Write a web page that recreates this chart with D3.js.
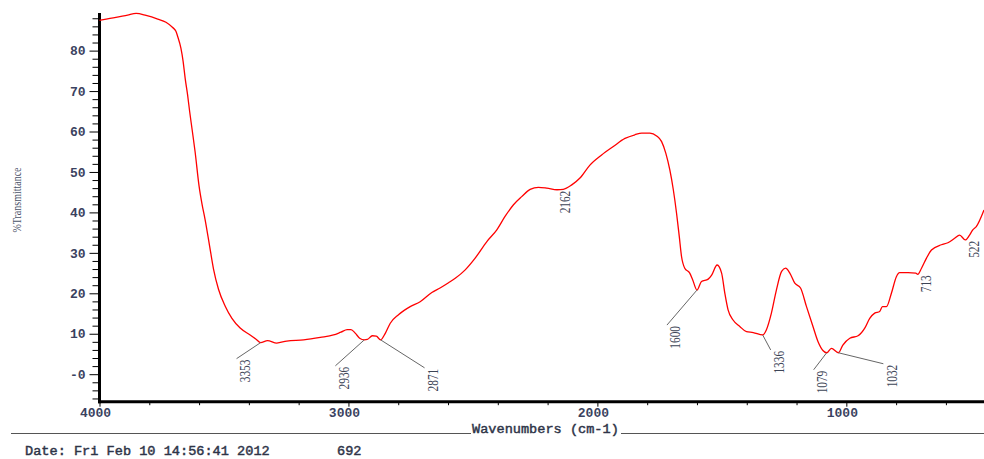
<!DOCTYPE html>
<html>
<head>
<meta charset="utf-8">
<script src="https://cdn.jsdelivr.net/npm/d3@7"></script>
<style>
  html, body { margin: 0; padding: 0; background: #ffffff; }
  svg { display: block; }
</style>
</head>
<body>
<svg id="chart" width="984" height="459"></svg>
<script>
// Infrared spectrum: wavenumber (cm-1) against %Transmittance
const wavenumbers = [
  4000, 3990, 3934, 3887, 3853, 3813, 3766, 3733, 3706, 3693, 3686, 3673, 3664, 3656, 3646,
  3638, 3628, 3616, 3600, 3588, 3576, 3558, 3542, 3522, 3495, 3468, 3435, 3395, 3370, 3353,
  3325, 3288, 3248, 3180, 3113, 3060, 3030, 3005, 2990, 2972, 2955, 2936, 2924, 2904, 2888,
  2871, 2852, 2832, 2799, 2752, 2712, 2665, 2632, 2598, 2571, 2531, 2491, 2444, 2404, 2371,
  2337, 2304, 2270, 2237, 2203, 2162, 2137, 2103, 2070, 2030, 1983, 1936, 1889, 1849, 1822,
  1789, 1762, 1742, 1725, 1709, 1695, 1682, 1671, 1662, 1649, 1629, 1617, 1600, 1582, 1555,
  1541, 1519, 1501, 1488, 1475, 1455, 1428, 1401, 1374, 1336, 1321, 1301, 1281, 1260, 1244,
  1227, 1207, 1184, 1160, 1134, 1114, 1093, 1079, 1060, 1032, 1014, 986, 953, 926, 906,
  886, 866, 855, 839, 819, 799, 786, 752, 721, 713, 698, 678, 658, 618, 592,
  565, 545, 522, 505, 492, 478, 447
];
const transmittance = [
  87.5, 87.6, 88.2, 88.8, 89.2, 88.7, 87.8, 87.0, 85.7, 84.8, 83.5, 80.6, 77.3, 73.2, 69.0,
  65.0, 60.5, 55.0, 46.5, 42.0, 38.3, 31.8, 26.0, 21.0, 16.8, 13.8, 11.4, 9.7, 8.6, 7.8,
  8.3, 7.7, 8.2, 8.5, 9.1, 9.7, 10.4, 11.0, 11.0, 10.1, 8.9, 8.5, 8.6, 9.5, 9.4,
  8.5, 10.1, 12.6, 14.7, 16.7, 17.9, 20.2, 21.3, 22.6, 23.7, 25.8, 28.7, 32.8, 35.7, 39.0,
  41.9, 43.9, 45.7, 46.2, 46.0, 45.6, 45.7, 46.8, 48.5, 51.7, 54.2, 56.3, 58.3, 59.2, 59.6,
  59.6, 58.9, 57.5, 54.6, 50.5, 45.6, 39.8, 34.0, 29.1, 26.2, 25.0, 23.3, 20.8, 22.9, 23.5,
  24.5, 27.0, 25.0, 20.0, 15.9, 13.4, 11.8, 10.5, 10.3, 9.7, 11.0, 15.1, 20.8, 25.4, 26.2,
  25.0, 22.5, 21.3, 16.7, 11.8, 8.1, 5.8, 5.3, 6.4, 5.3, 7.2, 8.9, 9.5, 11.4, 13.8,
  15.1, 15.5, 16.7, 16.7, 20.0, 24.1, 25.1, 25.1, 25.0, 24.7, 26.2, 28.7, 30.7, 32.0, 32.5,
  33.6, 34.4, 33.2, 34.4, 35.7, 36.5, 40.6
];

// Labelled peaks
const peakWavenumbers = [3353, 2936, 2871, 2162, 1600, 1336, 1079, 1032, 713, 522];
// Leader line end, in pixels from each peak point
const peakLeaders = [[-24, 16], [-29, 26], [44, 28], [0, 0], [-30, 35], [8, 15], [-13, 17], [45, 11], [0, 0], [0, 0]];

// Axis ticks
const xMajorTicks = [4000, 3000, 2000, 1000];
const xMinorTicks = [3800, 3600, 3400, 3200, 2800, 2600, 2400, 2200, 1800, 1600, 1400, 1200, 800, 600];
const yMajorTicks = [0, 10, 20, 30, 40, 50, 60, 70, 80];
const yMajorLabels = ["-0", "10", "20", "30", "40", "50", "60", "70", "80"];
const yMinorTicks = [-6, -4, -2, 2, 4, 6, 8, 12, 14, 16, 18, 22, 24, 26, 28, 32, 34, 36, 38,
  42, 44, 46, 48, 52, 54, 56, 58, 62, 64, 66, 68, 72, 74, 76, 78, 82, 84, 86, 88];

const xTitle = "Wavenumbers (cm-1)";
const yTitle = "%Transmittance";
const footerDate = "Date: Fri Feb 10 14:56:41 2012";
const footerCount = "692";

const svg = d3.select("#chart");
svg.append("rect").attr("width", 984).attr("height", 459).attr("fill", "#ffffff");

const plotLeft = 99.5, plotRight = 984, plotTop = 13, plotBottom = 401.7;
const x = d3.scaleLinear().domain([4000, 447]).range([plotLeft, plotRight]);
const y = d3.scaleLinear().domain([-6.8, 89.3]).range([plotBottom, plotTop]);

const monoFont = "'Liberation Mono', 'Courier New', monospace";
const tickColor = "#3a4260";
const textColor = "#2e3448";

// Y axis ticks
const yMajor = svg.append("g").attr("transform", `translate(${plotLeft},0)`)
  .call(d3.axisLeft(y).tickValues(yMajorTicks).tickSize(10).tickPadding(4)
    .tickFormat((d, i) => yMajorLabels[i]));
const yMinor = svg.append("g").attr("transform", `translate(${plotLeft},0)`)
  .call(d3.axisLeft(y).tickValues(yMinorTicks).tickSize(7).tickFormat(""));

// X axis ticks
const xMajor = svg.append("g").attr("transform", `translate(0,${plotBottom})`)
  .call(d3.axisBottom(x).tickValues(xMajorTicks).tickSize(5).tickPadding(1)
    .tickFormat(d3.format("d")));
const xMinor = svg.append("g").attr("transform", `translate(0,${plotBottom})`)
  .call(d3.axisBottom(x).tickValues(xMinorTicks).tickSize(3.5).tickFormat(""));

[yMajor, yMinor, xMajor, xMinor].forEach(g => {
  g.select(".domain").remove();
  g.selectAll(".tick line").attr("stroke", "#000").attr("stroke-width", 1);
  g.selectAll(".tick text")
    .attr("font-family", monoFont)
    .attr("font-size", 13)
    .attr("font-weight", "bold")
    .attr("fill", tickColor);
});
xMajor.selectAll(".tick text").attr("dx", -4.5).attr("dy", "0.7em");

// Axis lines
svg.append("line")
  .attr("x1", plotLeft).attr("x2", plotLeft)
  .attr("y1", plotTop).attr("y2", plotBottom + 1.5)
  .attr("stroke", "#000").attr("stroke-width", 3);
svg.append("line")
  .attr("x1", plotLeft - 1.5).attr("x2", plotRight)
  .attr("y1", plotBottom).attr("y2", plotBottom)
  .attr("stroke", "#000").attr("stroke-width", 3);

// Spectrum trace
const points = wavenumbers.map((w, i) => [w, transmittance[i]]);
const line = d3.line()
  .x(d => x(d[0]))
  .y(d => y(d[1]))
  .curve(d3.curveMonotoneX);
svg.append("path")
  .datum(points)
  .attr("d", line)
  .attr("fill", "none")
  .attr("stroke", "#ff0000")
  .attr("stroke-width", 1.3)
  .attr("stroke-linejoin", "round");

// Peak callouts
const peaks = svg.append("g");
peakWavenumbers.forEach((w, i) => {
  const px = x(w);
  const py = y(transmittance[wavenumbers.indexOf(w)]);
  const [dx, dy] = peakLeaders[i];
  const ex = px + dx, ey = py + dy;
  if (dx !== 0 || dy !== 0) {
    peaks.append("line")
      .attr("x1", px).attr("y1", py)
      .attr("x2", ex).attr("y2", ey)
      .attr("stroke", "#666666").attr("stroke-width", 1);
  }
  const label = String(w);
  peaks.append("text")
    .attr("transform", `translate(${ex + 8.5},${ey + 1}) rotate(-90)`)
    .attr("text-anchor", "end")
    .attr("dy", "0.35em")
    .attr("font-family", "'Liberation Serif', 'Times New Roman', serif")
    .attr("font-size", 14)
    .attr("textLength", label.length * 5.65)
    .attr("lengthAdjust", "spacingAndGlyphs")
    .attr("fill", "#3c4456")
    .text(label);
});

// Y title
svg.append("text")
  .attr("transform", "translate(17,200) rotate(-90)")
  .attr("text-anchor", "middle")
  .attr("dy", "0.35em")
  .attr("font-family", "'Liberation Serif', 'Times New Roman', serif")
  .attr("font-size", 12)
  .attr("textLength", 65)
  .attr("lengthAdjust", "spacingAndGlyphs")
  .attr("fill", "#4a5268")
  .text(yTitle);

// X title with rules on either side
svg.append("line").attr("x1", 11).attr("x2", 471).attr("y1", 433.5).attr("y2", 433.5)
  .attr("stroke", "#555").attr("stroke-width", 1.2);
svg.append("line").attr("x1", 621).attr("x2", 984).attr("y1", 433.5).attr("y2", 433.5)
  .attr("stroke", "#555").attr("stroke-width", 1.2);

function monoText(tx, ty, str) {
  return svg.append("text")
    .attr("x", tx).attr("y", ty)
    .attr("font-family", monoFont)
    .attr("font-size", 13.6)
    .attr("fill", textColor)
    .attr("stroke", textColor)
    .attr("stroke-width", 0.45)
    .text(str);
}
monoText(472, 432.5, xTitle);

// Footer
monoText(25, 455, footerDate);
monoText(337, 455, footerCount);
</script>
</body>
</html>
